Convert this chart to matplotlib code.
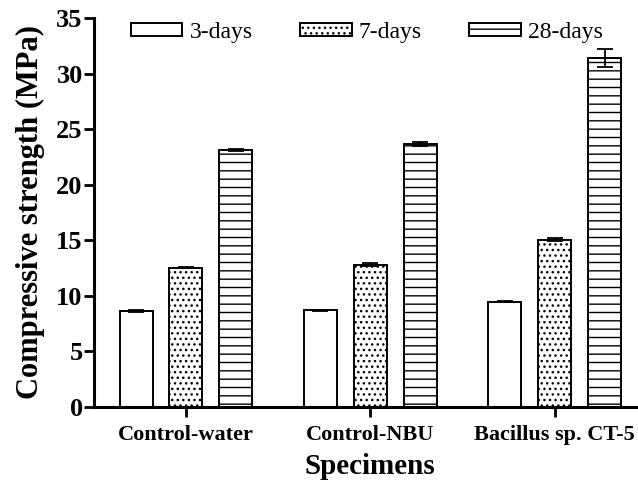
import matplotlib
matplotlib.use('Agg')
import matplotlib.pyplot as plt
import numpy as np

specimens = ['Control-water', 'Control-NBU', 'Bacillus sp. CT-5']
days_3 = [8.65, 8.7, 9.45]
days_7 = [12.5, 12.8, 15.05]
days_28 = [23.1, 23.65, 31.4]
err_3 = [0.08, 0.05, 0.05]
err_7 = [0.05, 0.12, 0.1]
err_28 = [0.1, 0.2, 0.8]
series_labels = ['3-days', '7-days', '28-days']
hatches = ['', '...', '--']

plt.rcParams['font.family'] = ['Liberation Serif', 'DejaVu Serif']
plt.rcParams['hatch.linewidth'] = 1.0

fig = plt.figure(figsize=(6.38, 4.86), dpi=100)
ax = fig.add_axes([0.147, 0.163, 0.867, 0.800])

x = np.arange(len(specimens))
step = 0.271
width = 0.179

data = [days_3, days_7, days_28]
errs = [err_3, err_7, err_28]
for i in range(3):
    ax.bar(x + (i - 1) * step, data[i], width, yerr=errs[i], color='white',
           edgecolor='black', linewidth=1.4, hatch=hatches[i], label=series_labels[i],
           error_kw=dict(ecolor='black', elinewidth=1.3, capsize=6, capthick=1.3))

ax.set_xlim(-0.5, 2.5)
ax.set_ylim(0, 35)
ax.set_yticks(np.arange(0, 36, 5))
ax.set_xticks(x)
ax.set_xticklabels(specimens, fontweight='bold', fontsize=16)
for lab in ax.get_yticklabels():
    lab.set_fontweight('bold')
    lab.set_fontsize(19)

ax.spines['top'].set_visible(False)
ax.spines['right'].set_visible(False)
ax.spines['left'].set_linewidth(2.2)
ax.spines['bottom'].set_linewidth(2.2)
ax.tick_params(axis='both', direction='out', length=7, width=2)
ax.tick_params(axis='x', pad=6)
ax.tick_params(axis='y', pad=1)

ax.set_ylabel('Compressive strength (MPa)', fontweight='bold', fontsize=22, labelpad=8)
ax.set_xlabel('Specimens', fontweight='bold', fontsize=21, labelpad=6)

ax.legend(loc='center', bbox_to_anchor=(0.575, 0.933), bbox_transform=fig.transFigure,
          ncol=3, frameon=False, fontsize=17, handlelength=2.2, handleheight=0.5,
          handletextpad=0.3, columnspacing=2.0)

fig.savefig('out.png', dpi=100)
